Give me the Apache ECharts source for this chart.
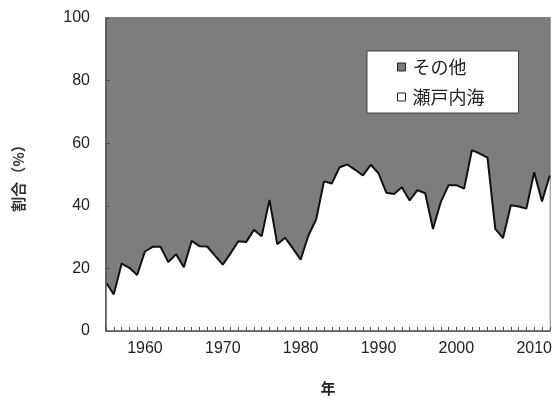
<!DOCTYPE html>
<html lang="ja">
<head>
    <meta charset="UTF-8">
    <title>割合</title>
    <style>
        html, body { margin: 0; padding: 0; background: #fff; }
        #main { width: 555px; height: 401px; }
    </style>
</head>
<body>
    <div id="main"></div>
    <script src="https://cdn.jsdelivr.net/npm/echarts@6/dist/echarts.min.js"></script>
    <script type="text/javascript">
        // 年 (1955-2012)
        var years = [];
        for (var y = 1955; y <= 2012; y++) years.push(String(y));

        // 瀬戸内海の割合 (%)
        var setoValues = [
            15.5, 11.7, 21.5, 20.2, 17.9, 25.4, 26.9, 26.9, 22.0, 24.5,
            20.4, 28.8, 27.1, 27.0, 24.1, 21.2, 24.8, 28.7, 28.4, 32.3,
            30.3, 41.9, 27.7, 29.8, 26.4, 22.8, 30.5, 35.7, 47.8, 47.1,
            52.3, 53.2, 51.5, 49.7, 53.1, 50.4, 44.2, 43.8, 45.9, 41.7,
            45.0, 44.0, 32.6, 41.2, 46.6, 46.6, 45.5, 57.8, 56.7, 55.4,
            32.6, 29.7, 40.2, 39.8, 39.1, 50.7, 41.4, 49.7
        ];
        // その他 = 100 - 瀬戸内海
        var otherValues = setoValues.map(function (v) { return +(100 - v).toFixed(1); });

        var seriesNames = ['瀬戸内海', 'その他'];
        var legendOrder = ['その他', '瀬戸内海'];

        var numFont = 'Liberation Sans, Arial, sans-serif';
        var jpFont = 'Noto Sans CJK JP, sans-serif';

        var myChart = echarts.init(document.getElementById('main'));
        var option = {
            animation: false,
            grid: {
                left: 106, right: 2, top: 18, bottom: 61,
                show: true,
                borderColor: '#555',
                borderWidth: 1.5
            },
            legend: {
                orient: 'vertical',
                left: 367,
                top: 51,
                padding: [6, 34, 6, 30],
                itemGap: 10,
                itemWidth: 8,
                itemHeight: 8,
                icon: 'rect',
                backgroundColor: '#fff',
                borderColor: '#444',
                borderWidth: 1,
                data: legendOrder,
                itemStyle: { borderColor: '#222', borderWidth: 1 },
                textStyle: { fontFamily: jpFont, fontSize: 18, color: '#222', lineHeight: 20, padding: [0, 0, 0, 2] }
            },
            xAxis: {
                type: 'category',
                data: years,
                boundaryGap: false,
                z: 10,
                name: '年',
                nameLocation: 'middle',
                nameGap: 50,
                nameTextStyle: { fontFamily: jpFont, fontSize: 15, color: '#222', fontWeight: 'bold' },
                axisLine: { lineStyle: { color: '#555', width: 1.5 } },
                axisTick: { inside: true, interval: 0, length: 4, lineStyle: { color: '#555' } },
                axisLabel: {
                    interval: function (i, v) { return Number(v) % 10 === 0; },
                    margin: 10,
                    fontFamily: numFont,
                    fontSize: 16,
                    color: '#222'
                },
                splitLine: { show: false }
            },
            yAxis: {
                type: 'value',
                min: 0,
                max: 100,
                interval: 20,
                z: 10,
                name: '割合（%）',
                nameLocation: 'middle',
                nameGap: 80,
                nameRotate: 90,
                nameTextStyle: { fontFamily: jpFont, fontSize: 15, color: '#333', fontWeight: 'bold' },
                axisLine: { show: true, lineStyle: { color: '#555', width: 1.5 } },
                axisTick: { show: true, inside: true, length: 4, lineStyle: { color: '#555' } },
                axisLabel: { margin: 16, fontFamily: numFont, fontSize: 16, color: '#222' },
                splitLine: { show: false }
            },
            series: [
                {
                    name: seriesNames[0],
                    type: 'line',
                    stack: 'total',
                    data: setoValues,
                    symbol: 'none',
                    z: 3,
                    color: '#fff',
                    lineStyle: { color: '#111', width: 2 },
                    areaStyle: { color: '#fff', opacity: 1 }
                },
                {
                    name: seriesNames[1],
                    type: 'line',
                    stack: 'total',
                    data: otherValues,
                    symbol: 'none',
                    z: 2,
                    color: '#7d7d7d',
                    lineStyle: { width: 0 },
                    areaStyle: { color: '#7d7d7d', opacity: 1 }
                }
            ]
        };
        myChart.setOption(option);
    </script>
</body>
</html>
